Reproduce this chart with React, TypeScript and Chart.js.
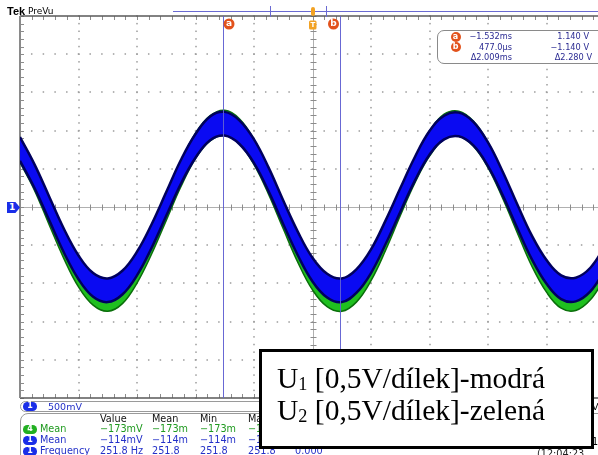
import React, { useEffect, useRef } from 'react';
import { Chart, registerables } from 'chart.js';

Chart.register(...registerables);

// ---- data (time in ms, voltage in V) ----
const timeMs = [-5, -4.75, -4.5, -4.25, -4, -3.75, -3.5, -3.25, -3, -2.75, -2.5, -2.25, -2, -1.75, -1.5, -1.25, -1, -0.75, -0.5, -0.25, 0, 0.25, 0.5, 0.75, 1, 1.25, 1.5, 1.75, 2, 2.25, 2.5, 2.75, 3, 3.25, 3.5, 3.75, 4, 4.25, 4.5, 4.75, 5];
const ch1Volts = [0.76, 0.40, -0.02, -0.44, -0.79, -1.02, -1.09, -0.99, -0.74, -0.38, 0.04, 0.46, 0.80, 1.03, 1.09, 0.98, 0.73, 0.36, -0.07, -0.48, -0.82, -1.03, -1.09, -0.97, -0.71, -0.33, 0.09, 0.50, 0.84, 1.04, 1.08, 0.96, 0.69, 0.31, -0.12, -0.53, -0.85, -1.05, -1.08, -0.95, -0.67];
const ch4Volts = [0.75, 0.38, -0.07, -0.51, -0.88, -1.12, -1.20, -1.10, -0.83, -0.45, -0.01, 0.43, 0.80, 1.03, 1.10, 0.99, 0.72, 0.33, -0.12, -0.56, -0.92, -1.14, -1.20, -1.08, -0.80, -0.40, 0.05, 0.48, 0.83, 1.05, 1.09, 0.96, 0.68, 0.28, -0.17, -0.61, -0.95, -1.16, -1.19, -1.05, -0.76];
const ch1Noise = 0.155; // half width of the noise band
const ch4Noise = 0.165;
const cursorTimes = [-1.532, 0.477];
const cursorLabels = ['a', 'b'];
const timeRange = [-5, 5];
const voltRange = [-2.5, 2.5];

const readoutRows = [
  { badge: 'a', time: '\u22121.532ms', volt: '1.140 V' },
  { badge: 'b', time: '477.0\u00b5s', volt: '\u22121.140 V' },
  { badge: '', time: '\u03942.009ms', volt: '\u03942.280 V' },
];
const measHeaders = ['Value', 'Mean', 'Min', 'Max'];
const measRows = [
  { ch: '4', name: 'Mean', cells: ['\u2212173mV', '\u2212173m', '\u2212173m', '\u2212173m'], color: '#1f9a1f', badge: '#22b022' },
  { ch: '1', name: 'Mean', cells: ['\u2212114mV', '\u2212114m', '\u2212114m', '\u2212114m'], color: '#2431c8', badge: '#1a2ee8' },
  { ch: '1', name: 'Frequency', cells: ['251.8 Hz', '251.8', '251.8', '251.8', '0.000'], color: '#2431c8', badge: '#1a2ee8' },
];
const legendLines = [
  { ch: '1', text: '[0,5V/d\u00edlek]-modr\u00e1' },
  { ch: '2', text: '[0,5V/d\u00edlek]-zelen\u00e1' },
];

const band = (vals: number[], d: number) => timeMs.map((t, i) => ({ x: t, y: vals[i] + d }));

const graticule = {
  id: 'graticule',
  beforeDatasetsDraw(chart: any) {
    const { ctx, chartArea: a, scales } = chart;
    const x = scales.x, y = scales.y;
    ctx.save();
    ctx.fillStyle = '#9c9c9c';
    for (let i = -4; i <= 4; i++) {
      if (i === 0) continue;
      const px = Math.round(x.getPixelForValue(i));
      for (let k = -25; k <= 25; k++) {
        const py = y.getPixelForValue(k / 10);
        ctx.fillRect(px - 0.75, py - 0.75, 1.5, 1.5);
      }
    }
    for (let j = -4; j <= 4; j++) {
      if (j === 0) continue;
      const py = Math.round(y.getPixelForValue(j / 2));
      for (let k = -25; k <= 25; k++) {
        const px = x.getPixelForValue(k / 5);
        ctx.fillRect(px - 0.75, py - 0.75, 1.5, 1.5);
      }
    }
    const cx = Math.round(x.getPixelForValue(0)) + 0.5;
    const cy = Math.round(y.getPixelForValue(0)) + 0.5;
    ctx.strokeStyle = '#b0b0b0';
    ctx.lineWidth = 1;
    ctx.beginPath();
    ctx.moveTo(a.left, cy); ctx.lineTo(a.right, cy);
    ctx.moveTo(cx, a.top); ctx.lineTo(cx, a.bottom);
    ctx.stroke();
    ctx.strokeStyle = '#8c8c8c';
    ctx.beginPath();
    for (let k = -25; k <= 25; k++) {
      const px = Math.round(x.getPixelForValue(k / 5)) + 0.5;
      ctx.moveTo(px, cy - 3); ctx.lineTo(px, cy + 3);
      ctx.moveTo(px, a.top); ctx.lineTo(px, a.top + 4);
      ctx.moveTo(px, a.bottom); ctx.lineTo(px, a.bottom - 4);
      const py = Math.round(y.getPixelForValue(k / 10)) + 0.5;
      ctx.moveTo(cx - 3, py); ctx.lineTo(cx + 3, py);
      ctx.moveTo(a.left, py); ctx.lineTo(a.left + 4, py);
    }
    ctx.stroke();
    ctx.strokeStyle = '#5a5a5a';
    ctx.lineWidth = 1.5;
    ctx.beginPath();
    ctx.moveTo(a.left, a.top); ctx.lineTo(a.right, a.top);
    ctx.moveTo(a.left, a.bottom); ctx.lineTo(a.right, a.bottom);
    ctx.stroke();
    ctx.strokeStyle = '#8a8a8a';
    ctx.lineWidth = 2;
    ctx.beginPath();
    ctx.moveTo(a.left, a.top); ctx.lineTo(a.left, a.bottom);
    ctx.stroke();
    ctx.restore();
  },
};

const cursors = {
  id: 'cursors',
  afterDatasetsDraw(chart: any) {
    const { ctx, chartArea: a, scales } = chart;
    const x = scales.x;
    ctx.save();
    ctx.strokeStyle = 'rgba(96,96,210,0.95)';
    ctx.lineWidth = 1;
    cursorTimes.forEach((t, i) => {
      const px = Math.round(x.getPixelForValue(t)) + 0.5;
      ctx.beginPath();
      ctx.moveTo(px, a.top); ctx.lineTo(px, a.bottom);
      ctx.stroke();
      const lx = i === 0 ? px + 5.5 : px - 7;
      ctx.fillStyle = '#e2521c';
      ctx.beginPath();
      ctx.arc(lx, a.top + 8, 5.5, 0, Math.PI * 2);
      ctx.fill();
      ctx.fillStyle = '#fff';
      ctx.font = 'bold 9px "DejaVu Sans"';
      ctx.textAlign = 'center';
      ctx.textBaseline = 'middle';
      ctx.fillText(cursorLabels[i], lx, a.top + 7.5);
    });
    const tx = x.getPixelForValue(0);
    ctx.fillStyle = '#f2a224';
    ctx.beginPath();
    ctx.roundRect(tx - 3.5, a.top + 4.5, 7.5, 9, 1.5);
    ctx.fill();
    ctx.fillStyle = '#fff';
    ctx.font = 'bold 7px "DejaVu Sans"';
    ctx.textAlign = 'center';
    ctx.textBaseline = 'middle';
    ctx.fillText('T', tx + 0.3, a.top + 9.2);
    ctx.restore();
  },
};

const sans = '"DejaVu Sans", sans-serif';

function Txt(props: { x?: number; r?: number; y: number; s: number; c: string; children: any; bold?: boolean; family?: string }) {
  const st: any = {
    position: 'absolute', top: props.y, fontSize: props.s, color: props.c, lineHeight: 1,
    whiteSpace: 'nowrap', fontFamily: props.family || sans, fontWeight: props.bold ? 'bold' : 'normal',
  };
  if (props.r !== undefined) st.right = 598 - props.r; else st.left = props.x;
  return <div style={st}>{props.children}</div>;
}

function Pill(props: { x: number; y: number; w: number; h: number; c: string; label: string }) {
  return (
    <div style={{ position: 'absolute', left: props.x, top: props.y, width: props.w, height: props.h, borderRadius: props.h / 2, background: props.c, color: '#fff', fontFamily: sans, fontWeight: 'bold', fontSize: 8, lineHeight: props.h + 'px', textAlign: 'center' }}>{props.label}</div>
  );
}

export default function App() {
  const ref = useRef<HTMLCanvasElement | null>(null);
  useEffect(() => {
    document.body.style.margin = '0';
    if (!ref.current) return;
    const chart = new Chart(ref.current, {
      type: 'line',
      data: {
        datasets: [
          { data: band(ch1Volts, ch1Noise), borderColor: '#00005e', borderWidth: 2.5, pointRadius: 0, tension: 0.4, fill: false, order: 0 },
          { data: band(ch1Volts, -ch1Noise), borderColor: '#00005e', borderWidth: 2.5, pointRadius: 0, tension: 0.4, fill: '-1', backgroundColor: '#0a0af2', order: 0 },
          { data: band(ch4Volts, ch4Noise), borderColor: '#0b6e0b', borderWidth: 1.5, pointRadius: 0, tension: 0.4, fill: false, order: 1 },
          { data: band(ch4Volts, -ch4Noise), borderColor: '#0b6e0b', borderWidth: 1.5, pointRadius: 0, tension: 0.4, fill: '-1', backgroundColor: '#1fc01f', order: 1 },
        ],
      },
      options: {
        animation: false,
        responsive: false,
        devicePixelRatio: 1,
        events: [],
        layout: { padding: { left: 20, top: 16, right: 15, bottom: 57 } },
        scales: {
          x: { type: 'linear', min: timeRange[0], max: timeRange[1], display: false },
          y: { type: 'linear', min: voltRange[0], max: voltRange[1], display: false },
        },
        plugins: { legend: { display: false }, tooltip: { enabled: false } },
      },
      plugins: [graticule, cursors],
    } as any);
    return () => chart.destroy();
  }, []);

  const cols = [100, 152, 200, 248, 295];
  const rowTops = [424, 435, 446];

  return (
    <div style={{ position: 'fixed', left: 0, top: 0, width: 598, height: 455, overflow: 'hidden', background: '#fff' }}>
      <canvas ref={ref} width={620} height={455} style={{ position: 'absolute', left: 0, top: 0, width: 620, height: 455 }} />

      <Txt x={7} y={6} s={11} c="#000" bold family='"Liberation Sans", Arial, sans-serif'>Tek</Txt>
      <Txt x={28} y={7} s={9} c="#000">PreVu</Txt>
      <div style={{ position: 'absolute', left: 173, top: 11, width: 430, height: 1, background: '#6a6ad2' }} />
      <div style={{ position: 'absolute', left: 270, top: 6, width: 1, height: 11, background: '#6a6ad2' }} />
      <div style={{ position: 'absolute', left: 326, top: 6, width: 1, height: 11, background: '#6a6ad2' }} />
      <div style={{ position: 'absolute', left: 310.5, top: 7, width: 4, height: 9, borderRadius: 2, background: '#f2a224' }} />

      <div style={{ position: 'absolute', left: 7, top: 202, width: 13, height: 11, background: '#1a2ee8', clipPath: 'polygon(0 0, 65% 0, 100% 50%, 65% 100%, 0 100%)', color: '#fff', fontFamily: sans, fontWeight: 'bold', fontSize: 9, lineHeight: '11px', paddingLeft: 2, boxSizing: 'border-box' }}>1</div>

      <div style={{ position: 'absolute', left: 437, top: 30, width: 200, height: 34, border: '1px solid #8a8a8a', borderRadius: 7, background: '#fff', boxSizing: 'border-box' }} />
      {readoutRows.map((r, i) => (
        <React.Fragment key={'ro' + i}>
          {r.badge && (
            <div style={{ position: 'absolute', left: 450.5, top: 31.5 + i * 10.3, width: 10, height: 10, borderRadius: 5, background: '#e2521c', color: '#fff', fontFamily: sans, fontWeight: 'bold', fontSize: 8, lineHeight: '10px', textAlign: 'center' }}>{r.badge}</div>
          )}
          <Txt r={512} y={32 + i * 10.5} s={8.2} c="#2b2b92">{r.time}</Txt>
          <Txt r={i === 2 ? 592 : 589} y={32 + i * 10.5} s={8.2} c="#2b2b92">{r.volt}</Txt>
        </React.Fragment>
      ))}

      <div style={{ position: 'absolute', left: 20, top: 401, width: 420, height: 11, border: '1px solid #9a9a9a', borderRadius: 6, boxSizing: 'border-box' }} />
      <Pill x={23} y={402} w={14} h={8.5} c="#1a2ee8" label="1" />
      <Txt x={48} y={402} s={9.5} c="#2431c8">500mV</Txt>
      <Txt x={592} y={402} s={9.5} c="#000">V</Txt>

      <div style={{ position: 'absolute', left: 20, top: 413, width: 600, height: 60, border: '1px solid #9a9a9a', borderRadius: 8, boxSizing: 'border-box' }} />
      {measHeaders.map((h, i) => (
        <Txt key={'h' + i} x={cols[i]} y={414} s={9.7} c="#111">{h}</Txt>
      ))}
      {measRows.map((r, i) => (
        <React.Fragment key={'m' + i}>
          <Pill x={23} y={rowTops[i] + 1} w={14} h={8.5} c={r.badge} label={r.ch} />
          <Txt x={40} y={rowTops[i]} s={9.7} c={r.color}>{r.name}</Txt>
          {r.cells.map((c, j) => (
            <Txt key={'c' + j} x={cols[j]} y={rowTops[i]} s={9.7} c={r.color}>{c}</Txt>
          ))}
        </React.Fragment>
      ))}
      <Txt x={592} y={437} s={9.7} c="#000">1</Txt>
      <Txt x={537} y={449} s={9.7} c="#222">(12:04:23</Txt>

      <div style={{ position: 'absolute', left: 259, top: 349, width: 335, height: 100, border: '3px solid #000', background: '#fff', boxSizing: 'border-box' }} />
      {legendLines.map((l, i) => (
        <div key={'l' + i} style={{ position: 'absolute', left: 277, top: 362 + i * 32, height: 32, lineHeight: '32px', fontSize: 29.5, fontFamily: '"Liberation Serif", "Times New Roman", serif', color: '#000', whiteSpace: 'nowrap' }}>
          U<span style={{ fontSize: '0.62em', verticalAlign: '-0.12em', lineHeight: 0 }}>{l.ch}</span> {l.text}
        </div>
      ))}
    </div>
  );
}
